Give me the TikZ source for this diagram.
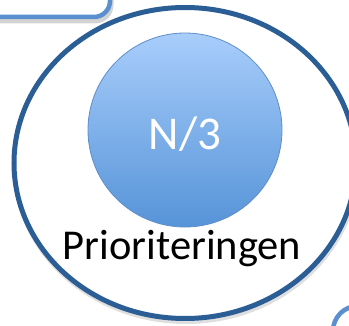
\documentclass[tikz,border=0pt]{standalone}
\usepackage{fontspec}
\setmainfont{Carlito}
\usetikzlibrary{shapes.geometric,shadows}
\definecolor{darkblue}{RGB}{44,94,150}
\definecolor{lightblue}{RGB}{91,143,207}
\definecolor{ctop}{RGB}{168,205,251}
\definecolor{cbot}{RGB}{86,148,216}
\definecolor{cborder}{RGB}{95,142,200}
\tikzset{
  outerring/.style={ellipse, draw=darkblue, line width=5pt, fill=white,
    minimum width=342pt, minimum height=311pt, inner sep=0pt},
  ringshadow/.style={ellipse, draw=gray, line width=5pt, opacity=0.25,
    minimum width=342pt, minimum height=311pt, inner sep=0pt},
  innerball/.style={circle, draw=cborder, line width=0.8pt,
    top color=ctop, bottom color=cbot, minimum size=194pt, inner sep=0pt},
  framebox/.style={draw=lightblue, line width=4.5pt, rounded corners=16pt, fill=white},
  boxshadow/.style={draw=gray, line width=5pt, rounded corners=16pt, opacity=0.35},
  bigtext/.style={font=\fontsize{47}{50}\selectfont, text=white},
  labeltext/.style={font=\fontsize{42.5}{46}\selectfont, text=black}
}
\begin{document}
\begin{tikzpicture}[x=1pt,y=-1pt]
\useasboundingbox (0,0) rectangle (349,326);
\begin{scope}
\clip (0,0) rectangle (349,326);
\draw[boxshadow] (-30,-37) rectangle (111,21);
\path[framebox] (-30,-40) rectangle (110,17);
\node[ringshadow] (rshadow) at (186,166) {};
\node[outerring] (ring) at (185,163) {};
\path[framebox, rounded corners=25pt] (333,306) rectangle (420,400);
\end{scope}
\node[innerball] (ball) at (185,130) {};
\node[bigtext, anchor=base] (n3) at (185,150) {N/3};
\node[labeltext, anchor=base] (prio) at (182,260) {Prioriteringen};
\end{tikzpicture}
\end{document}
